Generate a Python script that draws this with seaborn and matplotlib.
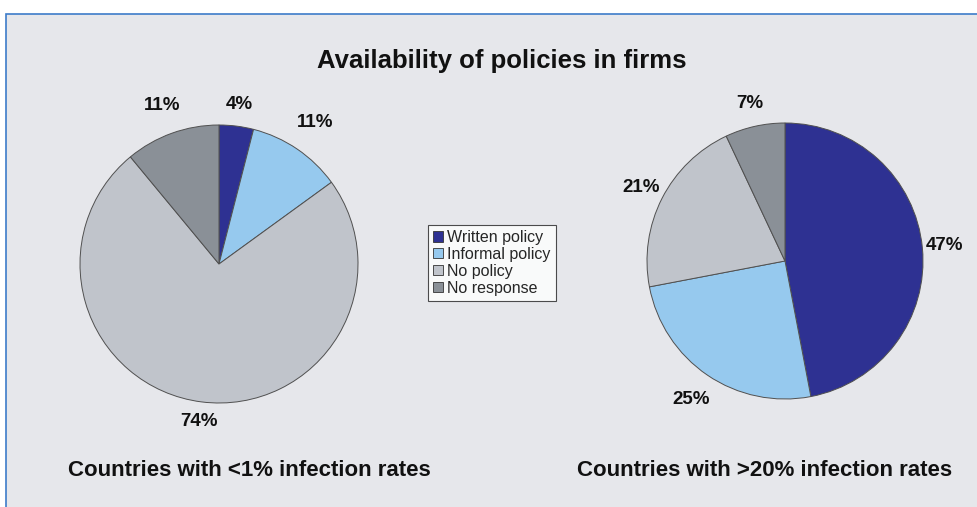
import matplotlib
matplotlib.use("Agg")
import matplotlib.pyplot as plt
import seaborn as sns
from matplotlib.patches import Rectangle, Patch

sns.set_theme(style="white")
plt.rcParams['font.family'] = ['Liberation Sans', 'DejaVu Sans']

categories = ["Written policy", "Informal policy", "No policy", "No response"]
low_values = [4, 11, 74, 11]
high_values = [47, 25, 21, 7]
colors = ["#2e3192", "#96c9ee", "#c0c4cb", "#8a9097"]
title = "Availability of policies in firms"
low_label = "Countries with <1% infection rates"
high_label = "Countries with >20% infection rates"

# label distances (fraction of radius) for each slice label
low_label_dist = [1.16, 1.23, 1.14, 1.21]
high_label_dist = [1.16, 1.21, 1.17, 1.17]

W, H = 977, 507
fig = plt.figure(figsize=(W / 100, H / 100), dpi=100)
fig.patch.set_facecolor("white")

# panel background with blue border
fig.patches.append(Rectangle((6 / W, -0.05), 1.0, (H - 14) / H + 0.05,
                             transform=fig.transFigure, facecolor="#e6e7eb",
                             edgecolor="#3d7cc9", linewidth=1.2, zorder=-5))

def pie_axes(cx, cy, r):
    ax = fig.add_axes([(cx - r) / W, (H - cy - r) / H, 2 * r / W, 2 * r / H])
    ax.set_zorder(2)
    return ax

def draw(ax, values, dists):
    wedges, texts, autotexts = ax.pie(
        values, colors=colors, startangle=90, counterclock=False,
        radius=1.0, autopct="%1.0f%%", pctdistance=1.0,
        wedgeprops=dict(edgecolor="#505050", linewidth=0.7),
        textprops=dict(fontsize=13.5, fontweight="bold", color="#111111"))
    for t, d in zip(autotexts, dists):
        x, y = t.get_position()
        t.set_position((x * d, y * d))
        t.set_clip_on(False)
    ax.set_xlim(-1, 1)
    ax.set_ylim(-1, 1)
    ax.set_aspect("auto")
    ax.axis("off")
    return wedges

ax1 = pie_axes(219, 264, 139)
draw(ax1, low_values, low_label_dist)
ax2 = pie_axes(785, 261, 138)
draw(ax2, high_values, high_label_dist)

fig.text(502 / W, 1 - 61 / H, title, ha="center", va="center",
         fontsize=18.5, fontweight="bold", color="#111111")
fig.text(249 / W, 1 - 471 / H, low_label, ha="center", va="center",
         fontsize=16, fontweight="bold", color="#111111")
fig.text(765 / W, 1 - 471 / H, high_label, ha="center", va="center",
         fontsize=16, fontweight="bold", color="#111111")

handles = [Patch(facecolor=c, edgecolor="#333333", linewidth=0.6) for c in colors]
leg = fig.legend(handles, categories, loc="center",
                 bbox_to_anchor=(492 / W, 1 - 263 / H), frameon=True,
                 fontsize=11.5, handlelength=0.6, handleheight=0.6,
                 handletextpad=0.3, labelspacing=0.12, borderpad=0.3,
                 fancybox=False, borderaxespad=0)
leg.get_frame().set_edgecolor("#222222")
leg.get_frame().set_linewidth(0.8)
leg.get_frame().set_facecolor("white")
leg.set_zorder(3)

fig.savefig("out.png", dpi=100)
